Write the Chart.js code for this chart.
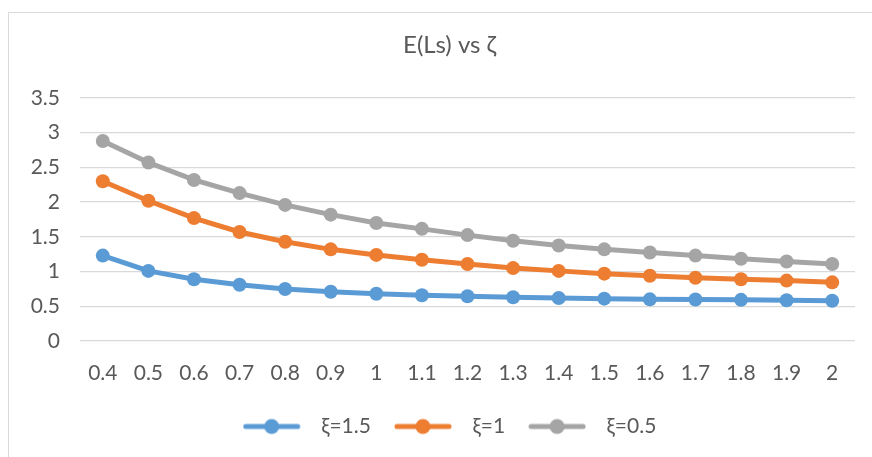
<!DOCTYPE html>
<html>
<head>
<meta charset="utf-8">
<script src="https://cdn.jsdelivr.net/npm/chart.js@4.4.1/dist/chart.umd.min.js"></script>
<style>
  html, body { margin: 0; padding: 0; width: 872px; height: 457px; overflow: hidden; background: #ffffff; }
  #frame {
    position: absolute; left: 8px; top: 12px;
    width: 894px; height: 470px;
    border-top: 1px solid #d9d9d9; border-left: 1px solid #d9d9d9;
    background: #ffffff;
  }
  #chart { display: block; }
</style>
</head>
<body>
<div id="frame"><canvas id="chart" width="894" height="470"></canvas></div>
<script>
// ζ values along the horizontal axis
const zetaLabels = ['0.4','0.5','0.6','0.7','0.8','0.9','1','1.1','1.2','1.3','1.4','1.5','1.6','1.7','1.8','1.9','2'];

// E(Ls) for each ξ
const xi15 = [1.23, 1.01, 0.89, 0.81, 0.75, 0.71, 0.68, 0.66, 0.645, 0.63, 0.62, 0.61, 0.60, 0.597, 0.593, 0.587, 0.58];
const xi10 = [2.30, 2.02, 1.77, 1.57, 1.43, 1.32, 1.24, 1.17, 1.11, 1.05, 1.01, 0.97, 0.94, 0.91, 0.89, 0.87, 0.845];
const xi05 = [2.88, 2.57, 2.32, 2.13, 1.96, 1.82, 1.70, 1.615, 1.525, 1.445, 1.375, 1.32, 1.275, 1.23, 1.185, 1.145, 1.11];

const seriesNames = ['ξ=1.5', 'ξ=1', 'ξ=0.5'];
const seriesColors = ['#5b9bd5', '#ed7d31', '#a5a5a5'];

const FONT = 'Lato, "Open Sans", sans-serif';
const TEXT = '#595959';

// legend marker: a short line with a dot in its middle
function legendMarker(color) {
  const c = document.createElement('canvas');
  c.width = 68; c.height = 18;
  const g = c.getContext('2d');
  g.strokeStyle = color; g.lineWidth = 5; g.lineCap = 'round';
  g.beginPath(); g.moveTo(3, 9); g.lineTo(55, 9); g.stroke();
  g.fillStyle = color;
  g.beginPath(); g.arc(29, 9, 7.5, 0, Math.PI * 2); g.fill();
  return c;
}
const markers = seriesColors.map(legendMarker);

function makeSet(name, values, color) {
  return {
    label: name,
    data: values,
    borderColor: color,
    backgroundColor: color,
    borderWidth: 5,
    pointRadius: 7,
    pointHoverRadius: 7,
    pointBorderWidth: 0,
    pointBackgroundColor: color,
    tension: 0,
    fill: false
  };
}

new Chart(document.getElementById('chart'), {
  type: 'line',
  data: {
    labels: zetaLabels,
    datasets: [
      makeSet(seriesNames[0], xi15, seriesColors[0]),
      makeSet(seriesNames[1], xi10, seriesColors[1]),
      makeSet(seriesNames[2], xi05, seriesColors[2])
    ]
  },
  options: {
    responsive: false,
    animation: false,
    events: [],
    layout: { padding: { left: 0, right: 13, top: 0, bottom: 36 } },
    plugins: {
      title: {
        display: true,
        text: 'E(Ls) vs ζ',
        color: TEXT,
        font: { family: FONT, size: 24, weight: 'normal', lineHeight: 1.2 },
        padding: { top: 18, bottom: 38.2 }
      },
      legend: {
        display: true,
        position: 'bottom',
        labels: {
          color: TEXT,
          font: { family: FONT, size: 21 },
          usePointStyle: true,
          pointStyleWidth: 68,
          padding: 23,
          generateLabels(chart) {
            return chart.data.datasets.map((ds, i) => ({
              text: ds.label,
              fillStyle: ds.borderColor,
              strokeStyle: ds.borderColor,
              lineWidth: 0,
              pointStyle: markers[i],
              fontColor: TEXT,
              hidden: false,
              datasetIndex: i
            }));
          }
        }
      },
      tooltip: { enabled: false }
    },
    scales: {
      x: {
        offset: true,
        grid: { display: false, drawTicks: false },
        border: { display: false },
        ticks: { color: TEXT, font: { family: FONT, size: 21 }, padding: 20, maxRotation: 0, autoSkip: false },
        afterFit(scale) { scale.height = 52; }
      },
      y: {
        min: 0,
        max: 3.5,
        grid: { color: '#d9d9d9', lineWidth: 1.3, drawTicks: false },
        border: { display: false },
        ticks: {
          stepSize: 0.5,
          color: TEXT,
          font: { family: FONT, size: 21 },
          padding: 20,
          callback: (v) => String(Math.round(v * 10) / 10)
        },
        afterFit(scale) { scale.width = 71; }
      },
      // empty right-hand margin beside the plot
      yRight: {
        position: 'right',
        grid: { display: false, drawTicks: false },
        border: { display: false },
        ticks: { display: false },
        afterFit(scale) { scale.width = 35; }
      }
    }
  }
});
</script>
</body>
</html>
